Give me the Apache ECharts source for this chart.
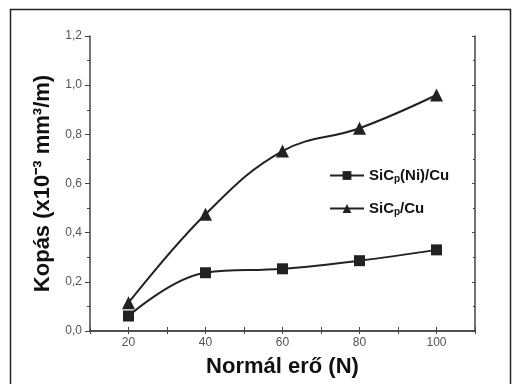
<!DOCTYPE html>
<html><head><meta charset="utf-8">
<script src="https://cdn.jsdelivr.net/npm/echarts@6/dist/echarts.min.js"></script>
<style>html,body{margin:0;padding:0;background:#fff}#c{width:513px;height:384px}</style>
</head><body><div id="c"></div>
<script>
var categories = [20, 40, 60, 80, 100];
var seriesNames = ['SiCp(Ni)/Cu', 'SiCp/Cu'];
var niCu = [0.061, 0.237, 0.253, 0.286, 0.330];
var sicCu = [0.115, 0.475, 0.732, 0.825, 0.960];
var xTickLabels = [20, 40, 60, 80, 100];
var yAxisTitle = 'Kopás (x10⁻³ mm³/m)';
var xAxisTitle = 'Normál erő (N)';

var chart = echarts.init(document.getElementById('c'));
function pairs(vals){ return categories.map(function(c,i){ return [c, vals[i]]; }); }
var font = 'Liberation Sans, Arial, sans-serif';
chart.setOption({
  animation: false,
  backgroundColor: '#fff',
  graphic: [{type:'rect', shape:{x:10.5, y:9.5, width:500, height:400}, style:{fill:'none', stroke:'#222', lineWidth:1.5}}],
  grid: {left: 90, top: 36, right: 38, bottom: 53},
  legend: {
    left: 324, top: 162, orient: 'vertical', itemGap: 16, itemWidth: 34, itemHeight: 11,
    data: seriesNames,
    formatter: function(n){ return n === 'SiCp(Ni)/Cu' ? '{n|SiC}{s|p}{n|(Ni)/Cu}' : '{n|SiC}{s|p}{n|/Cu}'; },
    textStyle: { rich: {
      n: {fontFamily: font, fontWeight: 'bold', fontSize: 15, color: '#111', lineHeight: 19},
      s: {fontFamily: font, fontWeight: 'bold', fontSize: 10, color: '#111', lineHeight: 19, padding: [7,0,0,0]}
    }}
  },
  xAxis: [{
    type: 'value', min: 10, max: 110, interval: 10,
    name: xAxisTitle, nameLocation: 'middle', nameGap: 25,
    nameTextStyle: {fontFamily: font, fontWeight: 'bold', fontSize: 22, color: '#111'},
    axisLine: {lineStyle: {color: '#444', width: 1.5}},
    axisTick: {show: true, inside: true, length: 4, lineStyle: {color: '#444'}},
    axisLabel: {customValues: xTickLabels, fontFamily: font, fontSize: 12, color: '#555', margin: 6},
    splitLine: {show: false}
  }, {
    type: 'value', min: 10, max: 110, interval: 10, position: 'top',
    axisLine: {lineStyle: {color: '#444', width: 1.5}},
    axisTick: {show: true, inside: true, length: 3, lineStyle: {color: '#444'}},
    axisLabel: {show: false}, splitLine: {show: false}
  }],
  yAxis: [{
    type: 'value', min: 0, max: 1.2, interval: 0.2,
    name: yAxisTitle, nameLocation: 'middle', nameGap: 35,
    nameTextStyle: {fontFamily: font, fontWeight: 'bold', fontSize: 22, color: '#111'},
    axisLine: {show: true, lineStyle: {color: '#444', width: 1.5}},
    axisTick: {show: true, length: 5, lineStyle: {color: '#444'}},
    minorTick: {show: true, splitNumber: 2, length: 3, lineStyle: {color: '#444'}},
    axisLabel: {fontFamily: font, fontSize: 12, color: '#555', margin: 8,
      formatter: function(v){ return v.toFixed(1).replace('.', ','); }},
    splitLine: {show: false}
  }, {
    type: 'value', min: 0, max: 1.2, interval: 0.2, position: 'right',
    axisLine: {show: true, lineStyle: {color: '#444', width: 1.5}},
    axisTick: {show: true, inside: true, length: 3, lineStyle: {color: '#444'}},
    minorTick: {show: true, splitNumber: 2, length: 2, lineStyle: {color: '#444'}},
    axisLabel: {show: false}, splitLine: {show: false}
  }],
  series: [{
    name: seriesNames[0], type: 'line', data: pairs(niCu), smooth: 0.4,
    symbol: 'rect', symbolSize: 11,
    itemStyle: {color: '#222'}, lineStyle: {color: '#222', width: 2}
  }, {
    name: seriesNames[1], type: 'line', data: pairs(sicCu), smooth: 0.4,
    symbol: 'triangle', symbolSize: 13,
    itemStyle: {color: '#222'}, lineStyle: {color: '#222', width: 2}
  }]
});
</script></body></html>
